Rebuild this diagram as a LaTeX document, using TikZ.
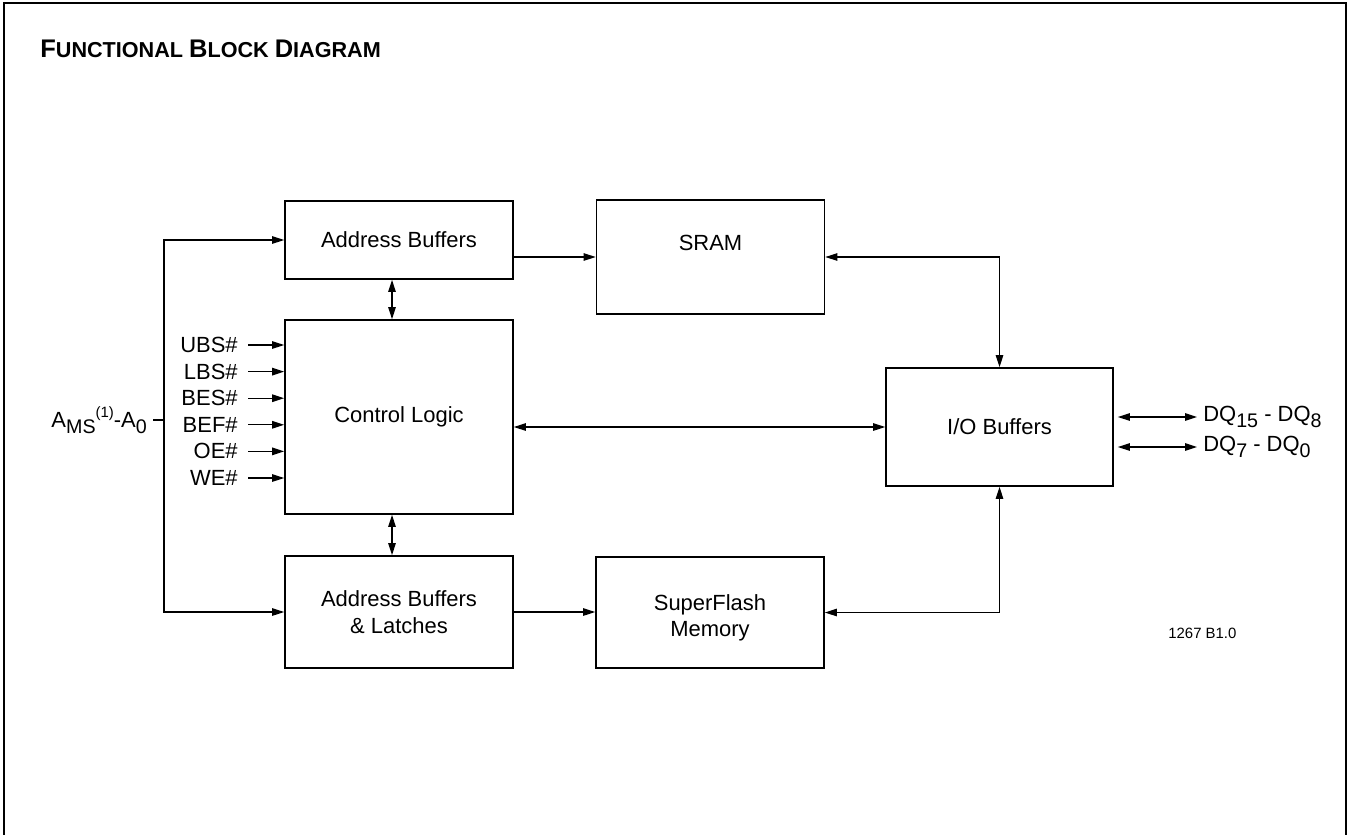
\documentclass[tikz,border=0pt]{standalone}
\usepackage{fontspec}
\setmainfont{Liberation Sans}
\usetikzlibrary{arrows.meta}
\tikzset{
  blk/.style={draw, line width=1pt, minimum width=4.56cm, align=center, inner sep=0pt},
  arw/.style={line width=0.75pt, -{Triangle[length=0.24cm,width=0.15cm]}},
  dbl/.style={line width=0.75pt, {Triangle[length=0.24cm,width=0.15cm]}-{Triangle[length=0.24cm,width=0.15cm]}},
  sig/.style={anchor=east, inner xsep=0.2cm, inner ysep=0pt},
}
\newcommand{\dn}[1]{\raisebox{-0.5ex}{\fontsize{11.2}{12}\selectfont #1}}
\newcommand{\up}[1]{\raisebox{0.9ex}{\fontsize{8.5}{9}\selectfont #1}}

\begin{document}
\begin{tikzpicture}[x=0.02cm, y=-0.02cm, font=\fontsize{12.5}{15}\selectfont]
  \useasboundingbox (0,0) rectangle (1350,835);
  % page frame, open at the bottom
  \draw[line width=1.6pt] (4,835) -- (4,3) -- (1346,3) -- (1346,835);
  \node[anchor=base west, inner sep=0pt, font=\bfseries] (title) at (40,57)
    {\fontsize{14.5}{16}\selectfont F\fontsize{12.3}{14}\selectfont UNCTIONAL
     \fontsize{14.5}{16}\selectfont B\fontsize{12.3}{14}\selectfont LOCK
     \fontsize{14.5}{16}\selectfont D\fontsize{12.3}{14}\selectfont IAGRAM};

  % blocks
  \node[blk, minimum height=1.56cm] (addr) at (399,240) {Address Buffers};
  \node[blk, minimum height=2.28cm, label={[yshift=0.28cm]center:SRAM}] (sram) at (710.5,257) {};
  \node[blk, minimum height=3.88cm] (ctrl) at (399,417) {Control Logic};
  \node[blk, minimum height=2.24cm] (abl) at (399,612) {Address Buffers\\ \& Latches};
  \node[blk, minimum height=2.22cm, label={[yshift=-0.1cm,align=center]center:SuperFlash\\Memory}] (flash) at (710,612.5) {};
  \node[blk, minimum width=4.54cm, minimum height=2.36cm] (io) at (999.5,427) {I/O Buffers};

  % address bus
  \node[anchor=east] (amsa) at (153,420) {A\dn{MS}\up{(1)}-A\dn{0}};
  \coordinate (bus) at (164,420);
  \draw[line width=0.75pt] (amsa) -- (bus);
  \draw[arw] (bus) |- (addr.west);
  \draw[arw] (bus) |- (abl.west);

  % control inputs
  \foreach \name [count=\i from 0] in {UBS\#, LBS\#, BES\#, BEF\#, OE\#, WE\#}{
    \node[sig] (s\i) at (248,{345+26.6*\i}) {\name};
    \draw[arw] (s\i) -- (s\i -| ctrl.west);
  }

  % internal connections
  \draw[arw] (addr.east |- sram.west) -- (sram.west);
  \draw[arw] (abl.east) -- (abl.east -| flash.west);
  \draw[dbl] ([xshift=-0.14cm]addr.south) -- ([xshift=-0.14cm]ctrl.north);
  \draw[dbl] ([xshift=-0.14cm]ctrl.south) -- ([xshift=-0.14cm]abl.north);
  \draw[dbl] (ctrl.east |- io.west) -- (io.west);
  \draw[dbl] (sram.east) -| (io.north);
  \draw[dbl] (flash.east) -| (io.south);

  % data bus
  \node[anchor=west, inner xsep=0.12cm] (dqh) at (1197,417) {DQ\dn{15} - DQ\dn{8}};
  \node[anchor=west, inner xsep=0.12cm] (dql) at (1197,447) {DQ\dn{7} - DQ\dn{0}};
  \draw[dbl] ([xshift=0.08cm]io.east |- dqh.west) -- (dqh.west);
  \draw[dbl] ([xshift=0.08cm]io.east |- dql.west) -- (dql.west);

  \node[anchor=base west, inner sep=0pt, font=\fontsize{8.5}{10}\selectfont] (ref) at (1168,638) {1267 B1.0};
\end{tikzpicture}
\end{document}
